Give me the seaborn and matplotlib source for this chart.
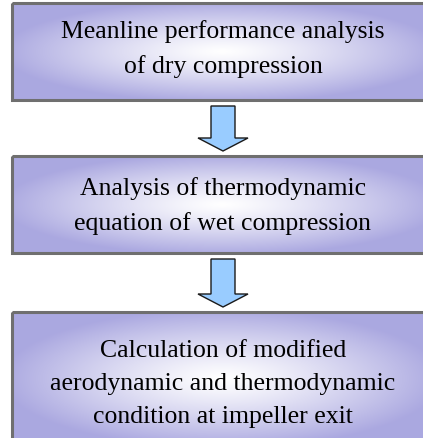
import numpy as np
import matplotlib.pyplot as plt
import seaborn as sns
from matplotlib.patches import Rectangle, Polygon

# Flowchart steps (top to bottom)
steps = [
    "Meanline performance analysis\nof dry compression",
    "Analysis of thermodynamic\nequation of wet compression",
    "Calculation of modified\naerodynamic and thermodynamic\ncondition at impeller exit",
]

# Box layout in pixels (top, bottom)
box_top = [4, 157, 313]
box_bottom = [101, 254, 446]
box_left, box_right = 12, 432
text_y = [49, 206, 384]

sns.set_theme(style="white")
plt.rcParams['font.family'] = ['Liberation Serif', 'DejaVu Serif']

fig = plt.figure(figsize=(4.23, 4.39), dpi=100)
ax = fig.add_axes([0, 0, 1, 1])
ax.set_xlim(0, 423)
ax.set_ylim(439, 0)
ax.axis('off')

white = np.array([1.0, 1.0, 1.0])
lav = np.array([0.67, 0.66, 0.88])

for label, top, bot, ty in zip(steps, box_top, box_bottom, text_y):
    # radial gradient fill, white in the middle
    w = box_right - box_left
    h = bot - top
    xx, yy = np.meshgrid(np.linspace(-1, 1, 300), np.linspace(-1, 1, 120))
    d = np.clip(np.sqrt(xx ** 2 + yy ** 2) / 1.05, 0, 1) ** 1.2
    img = white[None, None, :] * (1 - d[..., None]) + lav[None, None, :] * d[..., None]
    ax.imshow(img, extent=(box_left, box_right, bot, top), aspect='auto', zorder=1)
    ax.add_patch(Rectangle((box_left, top), w, h, fill=False,
                           edgecolor='#6f6f6f', linewidth=2.2, zorder=2))
    ax.text(223, ty, label, ha='center', va='center', fontsize=18.5,
            linespacing=1.62, color='black', zorder=3)

# Down arrows between boxes
for i in range(len(steps) - 1):
    y0 = box_bottom[i] + 6
    y1 = box_top[i + 1] - 5
    cx = 223
    head = 13
    pts = [(cx - 12, y0), (cx + 12, y0), (cx + 12, y1 - head),
           (cx + 25, y1 - head), (cx, y1), (cx - 25, y1 - head),
           (cx - 12, y1 - head)]
    ax.add_patch(Polygon(pts, closed=True, facecolor='#99ccff',
                         edgecolor='#1a1a1a', linewidth=1.0, zorder=3))

fig.savefig("out.png", dpi=100)
